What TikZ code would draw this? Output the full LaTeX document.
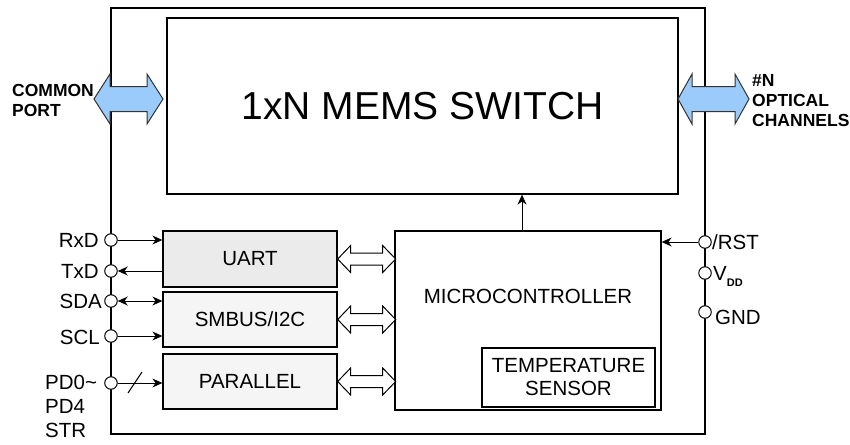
\documentclass[tikz,border=0pt]{standalone}
\usepackage{fontspec}
\setmainfont{Liberation Sans}
\usetikzlibrary{arrows.meta}
\definecolor{blueA}{HTML}{9ACBFA}
\definecolor{uartfill}{HTML}{EBEBEB}
\definecolor{busfill}{HTML}{F5F5F5}
\definecolor{edgegray}{HTML}{333333}
\begin{document}
\begin{tikzpicture}[x=1pt,y=-1pt,
  box/.style={draw, line width=1.3pt, inner sep=0pt, font=\fontsize{20.5}{24}\selectfont},
  pinc/.style={draw, circle, fill=white, line width=1pt, minimum size=12.5pt, inner sep=0pt},
  conn/.style={line width=1pt},
  tip/.style={-{Stealth[length=10pt,width=9pt]}},
  lbl/.style={inner sep=0pt, font=\fontsize{20.5}{24}\selectfont},
  biglbl/.style={inner sep=0pt, align=left, font=\fontsize{17.5}{20}\selectfont\bfseries},
  hollow/.style={draw, line width=1pt, fill=white},
  bluearrow/.style={draw=edgegray, line width=1pt, fill=blueA}
]
\useasboundingbox (0,0) rectangle (850,444);
\fill[white] (0,0) rectangle (850,444);

% frame and blocks
\node[box, minimum width=594pt, minimum height=426pt] (frame) at (408,221) {};
\node[box, minimum width=511pt, minimum height=176pt, font=\fontsize{39}{45}\selectfont] (mems) at (422.5,106) {1xN MEMS SWITCH};
\node[box, fill=uartfill, minimum width=174pt, minimum height=56pt] (uart) at (250,259) {UART};
\node[box, fill=busfill, minimum width=174pt, minimum height=55pt] (smbus) at (250,319.5) {SMBUS/I2C};
\node[box, fill=busfill, minimum width=174pt, minimum height=55pt] (par) at (250,381.5) {PARALLEL};
\node[box, minimum width=266pt, minimum height=179pt] (mcu) at (528,320.5) {};
\node[lbl] (mcutext) at (528,296) {MICROCONTROLLER};
\node[box, minimum width=173pt, minimum height=59pt, align=center, font=\fontsize{20.5}{23}\selectfont] (temp) at (568.5,377.5) {TEMPERATURE\\SENSOR};

% big blue arrows
\draw[bluearrow] (94,99) -- (110,74) -- (110,86.5) -- (147,86.5) -- (147,74) -- (163,99)
  -- (147,124) -- (147,111.5) -- (110,111.5) -- (110,124) -- cycle;
\draw[bluearrow] (678,99) -- (692,74) -- (692,86.5) -- (735,86.5) -- (735,74) -- (749,99)
  -- (735,124) -- (735,111.5) -- (692,111.5) -- (692,124) -- cycle;
\node[biglbl, anchor=west] (cport) at (12,100) {COMMON\\PORT};
\node[biglbl, anchor=west] (nch) at (752,101) {\#N\\OPTICAL\\CHANNELS};

% hollow bus arrows
\foreach \b in {uart,smbus,par}{
  \draw[hollow] (\b.east) -- ++(13,-13.5) -- ++(0,7.5) -- ++(32,0) -- ++(0,-7.5) -- ++(13,13.5)
    -- ++(-13,13.5) -- ++(0,-7.5) -- ++(-32,0) -- ++(0,7.5) -- cycle;
}

% left pins
\node[pinc] (rxd) at (111,240) {};
\node[pinc] (txd) at (111,271) {};
\node[pinc] (sda) at (111,301) {};
\node[pinc] (scl) at (111,336) {};
\node[pinc] (pd) at (111,383) {};
\node[lbl, anchor=east] (lrxd) at (99,240) {RxD};
\node[lbl, anchor=east] (ltxd) at (99,271) {TxD};
\node[lbl, anchor=east] (lsda) at (102,301) {SDA};
\node[lbl, anchor=east] (lscl) at (100,337) {SCL};
\node[lbl, anchor=north west, align=left, font=\fontsize{20.5}{24}\selectfont] (lpd) at (45,375) {PD0\textasciitilde\\PD4\\STR};

\draw[conn, tip] (rxd) -- (rxd -| uart.west);
\draw[conn, tip] (txd -| uart.west) -- (txd);
\draw[conn, {Stealth[length=10pt,width=9pt]}-{Stealth[length=10pt,width=9pt]}] (sda) -- (sda -| smbus.west);
\draw[conn, tip] (scl) -- (scl -| smbus.west);
\draw[conn, tip] (pd) -- (pd -| par.west);
\draw[conn] ([xshift=17pt,yshift=-10pt]pd.center) -- ++(14,-21);

% right pins
\node[pinc] (rst) at (705,242) {};
\node[pinc] (vdd) at (705,273) {};
\node[pinc] (gnd) at (705,312) {};
\node[lbl, anchor=west] (lrst) at (712,242) {/RST};
\node[lbl, anchor=west] (lvdd) at (713,276) {V\raisebox{-6pt}{\fontsize{11}{11}\selectfont\bfseries DD}};
\node[lbl, anchor=west] (lgnd) at (715,317) {GND};
\draw[conn, tip] (rst) -- (rst -| mcu.east);

% control arrow to switch
\coordinate (ctl) at (522,0);
\draw[conn, tip] (ctl |- mcu.north) -- (ctl |- mems.south);
\end{tikzpicture}
\end{document}
